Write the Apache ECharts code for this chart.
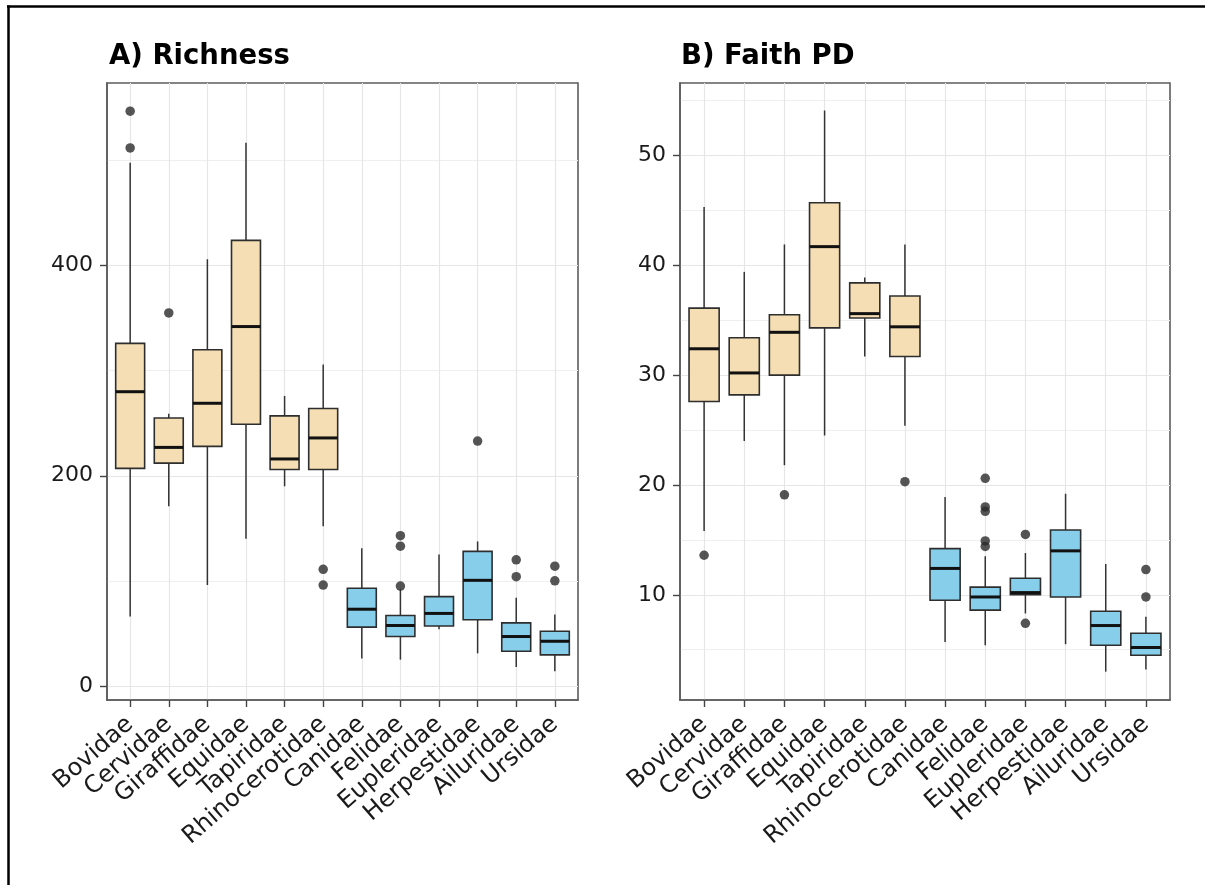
<!DOCTYPE html>
<html>
<head>
<meta charset="utf-8">
<script src="https://cdn.jsdelivr.net/npm/echarts@6/dist/echarts.min.js"></script>
<style>
html,body{margin:0;padding:0;background:#fff;}
#chart{width:1205px;height:885px;}
</style>
</head>
<body>
<div id="chart"></div>
<script>
// ---------- data ----------
const categories = ['Bovidae','Cervidae','Giraffidae','Equidae','Tapiridae','Rhinocerotidae',
                    'Canidae','Felidae','Eupleridae','Herpestidae','Ailuridae','Ursidae'];
const groups = ['ungulate','ungulate','ungulate','ungulate','ungulate','ungulate',
                'carnivore','carnivore','carnivore','carnivore','carnivore','carnivore'];

// [lower whisker, Q1, median, Q3, upper whisker]
const richnessStats = [
  [66, 207, 280, 326, 498],
  [171, 212, 227, 255, 259],
  [96, 228, 269, 320, 406],
  [140, 249, 342, 424, 517],
  [190, 206, 216, 257, 276],
  [152, 206, 236, 264, 306],
  [26, 56, 73, 93, 131],
  [25, 47, 57.5, 67, 92],
  [54, 57, 69, 85, 125],
  [31, 63, 100.5, 128, 137.5],
  [18, 33, 47, 60, 84],
  [14, 29.5, 42.5, 52, 68]
];
const richnessOutliers = [[547, 512], [355], [], [], [], [111, 96], [], [143, 133, 95], [], [233], [120, 104], [114, 100]];

const faithStats = [
  [15.8, 27.6, 32.4, 36.1, 45.3],
  [24.0, 28.2, 30.2, 33.4, 39.4],
  [21.8, 30.0, 33.9, 35.5, 41.9],
  [24.5, 34.3, 41.7, 45.7, 54.1],
  [31.7, 35.2, 35.6, 38.4, 38.9],
  [25.4, 31.7, 34.4, 37.2, 41.9],
  [5.7, 9.5, 12.4, 14.2, 18.9],
  [5.4, 8.6, 9.8, 10.7, 13.5],
  [8.3, 10.0, 10.2, 11.5, 13.8],
  [5.5, 9.8, 14.0, 15.9, 19.2],
  [3.0, 5.4, 7.2, 8.5, 12.8],
  [3.2, 4.5, 5.2, 6.5, 8.0]
];
const faithOutliers = [[13.6], [], [19.1], [], [], [20.3], [], [20.6, 18.0, 17.6, 14.9, 14.4], [15.5, 7.4], [], [], [12.3, 9.8]];

const richnessTicks = [0, 200, 400];
const richnessMinor = [100, 300, 500];
const faithTicks = [10, 20, 30, 40, 50];
const faithMinor = [5, 15, 25, 35, 45, 55];
const titles = ['A) Richness', 'B) Faith PD'];

// ---------- styles ----------
const fillColor = { ungulate: '#F5DEB3', carnivore: '#87CEEB' };
const FONT = 'DejaVu Sans';
const BORDER = '#5c5c5c';
const catIdx = categories.map((c, i) => i);

function boxData(stats) {
  return stats.map((s, i) => [i].concat(s));
}
function outlierData(list) {
  const out = [];
  list.forEach((vals, i) => vals.forEach(v => out.push([i, v])));
  return out;
}
function renderBox(params, api) {
  const i = api.value(0);
  const pLo = api.coord([i, api.value(1)]);
  const pQ1 = api.coord([i, api.value(2)]);
  const pMed = api.coord([i, api.value(3)]);
  const pQ3 = api.coord([i, api.value(4)]);
  const pHi = api.coord([i, api.value(5)]);
  const halfW = api.size([0.75, 0])[0] / 2;
  const x = pMed[0];
  return {
    type: 'group',
    children: [
      { type: 'line', shape: { x1: x, y1: pHi[1], x2: x, y2: pLo[1] },
        style: { stroke: '#333', lineWidth: 1.5 } },
      { type: 'rect', shape: { x: x - halfW, y: pQ3[1], width: 2 * halfW, height: pQ1[1] - pQ3[1] },
        style: { fill: fillColor[groups[i]], stroke: '#2e2e2e', lineWidth: 1.6 } },
      { type: 'line', shape: { x1: x - halfW, y1: pMed[1], x2: x + halfW, y2: pMed[1] },
        style: { stroke: '#111', lineWidth: 3 } }
    ]
  };
}

function xAxisDef(gridIndex) {
  return {
    type: 'value', gridIndex: gridIndex, min: -0.6, max: 11.6, position: 'bottom',
    axisLine: { show: true, onZero: false, lineStyle: { color: BORDER, width: 1.6 } },
    axisTick: { show: true, inside: false, length: 7, customValues: catIdx, lineStyle: { color: '#444', width: 1.4 } },
    axisLabel: {
      customValues: catIdx, rotate: 41, margin: 21,
      align: 'right', verticalAlign: 'middle',
      formatter: v => categories[Math.round(v)],
      color: '#1a1a1a', fontSize: 24, fontFamily: FONT
    },
    splitLine: { show: true, lineStyle: { color: '#e6e6e6', width: 1.2 } }
  };
}
function yMainDef(gridIndex, min, max, ticks) {
  return {
    type: 'value', gridIndex: gridIndex, min: min, max: max, position: 'left',
    axisLine: { show: true, onZero: false, lineStyle: { color: BORDER, width: 1.6 } },
    axisTick: { show: true, inside: false, length: 7, customValues: ticks, lineStyle: { color: '#444', width: 1.4 } },
    axisLabel: { customValues: ticks, margin: 14, color: '#1a1a1a', fontSize: 22, fontFamily: FONT },
    splitLine: { show: true, lineStyle: { color: '#e6e6e6', width: 1.2 } }
  };
}
function yMinorDef(gridIndex, min, max, ticks) {
  return {
    type: 'value', gridIndex: gridIndex, min: min, max: max, position: 'right',
    axisLine: { show: false, onZero: false },
    axisTick: { show: false, customValues: ticks },
    axisLabel: { show: false, customValues: ticks },
    splitLine: { show: true, lineStyle: { color: '#efefef', width: 1 } }
  };
}

const chart = echarts.init(document.getElementById('chart'), null, { renderer: 'canvas' });
chart.setOption({
  animation: false,
  backgroundColor: '#fff',
  title: [
    { text: titles[0], left: 109, top: 43, padding: 0,
      textStyle: { fontSize: 27.5, fontWeight: 'bold', color: '#000', fontFamily: FONT } },
    { text: titles[1], left: 681, top: 43, padding: 0,
      textStyle: { fontSize: 27.5, fontWeight: 'bold', color: '#000', fontFamily: FONT } }
  ],
  grid: [
    { left: 107, top: 83, width: 471, height: 617, containLabel: false, outerBoundsMode: 'none',
      show: true, borderColor: BORDER, borderWidth: 1.6, backgroundColor: 'transparent' },
    { left: 680, top: 83, width: 490, height: 617, containLabel: false, outerBoundsMode: 'none',
      show: true, borderColor: BORDER, borderWidth: 1.6, backgroundColor: 'transparent' }
  ],
  xAxis: [xAxisDef(0), xAxisDef(1)],
  yAxis: [
    yMainDef(0, -13.4, 573.8, richnessTicks),
    yMinorDef(0, -13.4, 573.8, richnessMinor),
    yMainDef(1, 0.42, 56.6, faithTicks),
    yMinorDef(1, 0.42, 56.6, faithMinor)
  ],
  graphic: [
    { type: 'line', shape: { x1: 7, y1: 6.5, x2: 1205, y2: 6.5 }, style: { stroke: '#000', lineWidth: 2.5 }, silent: true },
    { type: 'line', shape: { x1: 8.5, y1: 5.5, x2: 8.5, y2: 885 }, style: { stroke: '#000', lineWidth: 2.5 }, silent: true }
  ],
  series: [
    { type: 'custom', name: 'Richness', xAxisIndex: 0, yAxisIndex: 0, renderItem: renderBox,
      data: boxData(richnessStats), encode: { x: 0, y: [1, 2, 3, 4, 5] }, z: 3 },
    { type: 'scatter', xAxisIndex: 0, yAxisIndex: 0, data: outlierData(richnessOutliers),
      symbolSize: 9.5, itemStyle: { color: '#2a2a2a' }, z: 4 },
    { type: 'custom', name: 'Faith PD', xAxisIndex: 1, yAxisIndex: 2, renderItem: renderBox,
      data: boxData(faithStats), encode: { x: 0, y: [1, 2, 3, 4, 5] }, z: 3 },
    { type: 'scatter', xAxisIndex: 1, yAxisIndex: 2, data: outlierData(faithOutliers),
      symbolSize: 9.5, itemStyle: { color: '#2a2a2a' }, z: 4 }
  ]
});
</script>
</body>
</html>
